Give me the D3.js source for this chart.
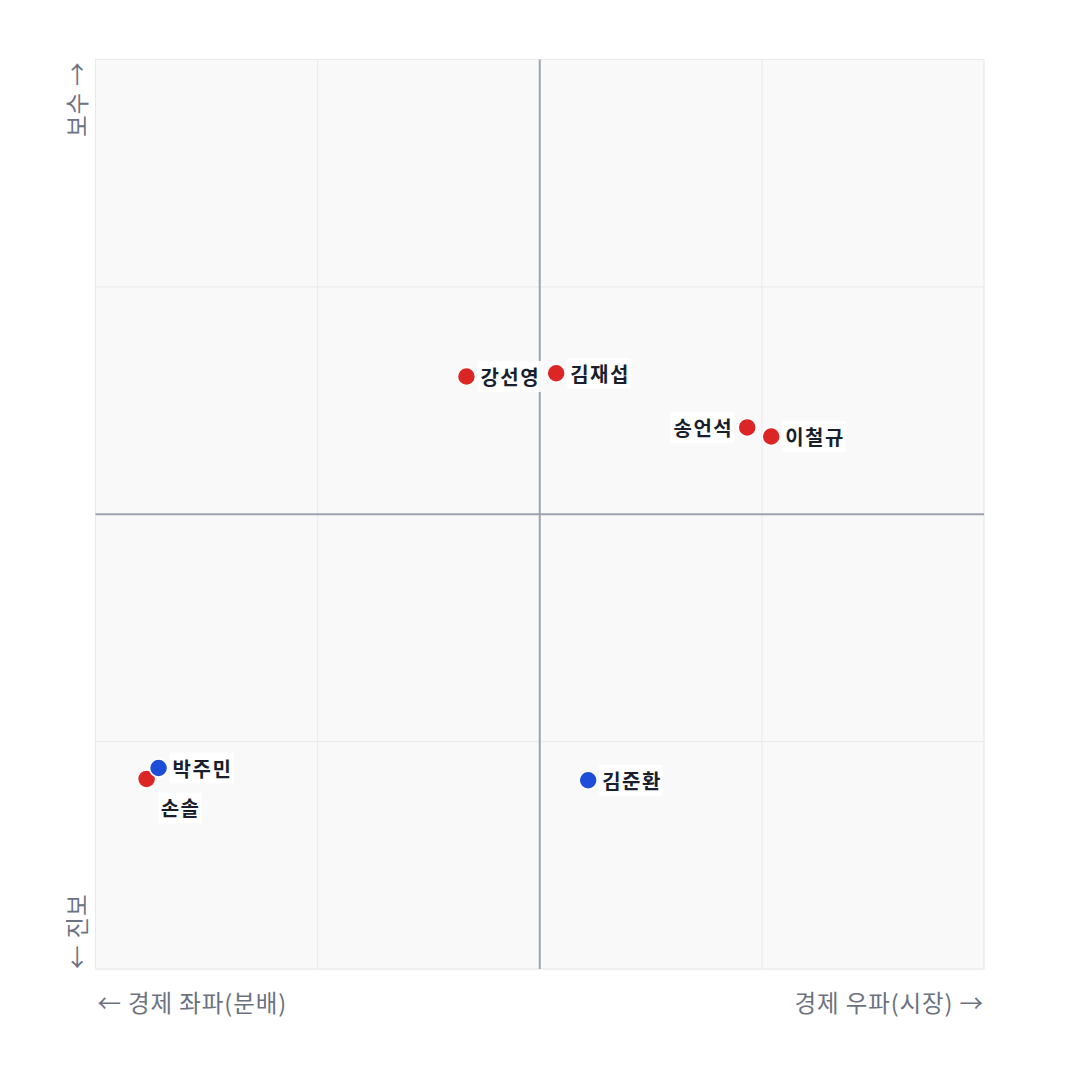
<!DOCTYPE html>
<html><head><meta charset="utf-8">
<script src="https://cdn.jsdelivr.net/npm/d3@7"></script>
<style>
html,body{margin:0;padding:0;background:#fff;}
text{font-family:"Noto Sans CJK KR","Noto Sans",sans-serif;}
</style></head>
<body>
<svg id="c" width="1080" height="1080"></svg>
<script>
const names = ["강선영","김재섭","송언석","이철규","박주민","손솔","김준환"];
const xValues = [-1.65, 0.37, 4.67, 5.21, -8.58, -8.85, 1.09];
const yValues = [3.03, 3.10, 1.91, 1.71, -5.58, -5.82, -5.85];
const parties = ["red","red","red","red","blue","red","blue"];
const labelPos = ["right","right","left","right","right","below","right"];
const gridTicks = [-10,-5,0,5,10];
const axisLabels = ["← 경제 좌파(분배)","경제 우파(시장) →","보수 →","← 진보"];

const colors = {red:"#dc2626", blue:"#1d4ed8"};
const svg = d3.select("#c");
const L=95.5, R=984, T=59.5, B=969;
const x = d3.scaleLinear().domain([-10,10]).range([L,R]);
const y = d3.scaleLinear().domain([-10,10]).range([B,T]);

svg.append("rect").attr("x",L).attr("y",T).attr("width",R-L).attr("height",B-T)
  .attr("fill","#f9f9f9").attr("stroke","#eeeeee").attr("stroke-width",1);

svg.append("g").selectAll("line").data(gridTicks.filter(d=>d!==0)).join("line")
  .attr("x1",d=>x(d)).attr("x2",d=>x(d)).attr("y1",T).attr("y2",B)
  .attr("stroke","#eaeaea").attr("stroke-width",1);
svg.append("g").selectAll("line").data(gridTicks.filter(d=>d!==0)).join("line")
  .attr("y1",d=>y(d)).attr("y2",d=>y(d)).attr("x1",L).attr("x2",R)
  .attr("stroke","#eaeaea").attr("stroke-width",1);

svg.append("line").attr("x1",x(0)).attr("x2",x(0)).attr("y1",T).attr("y2",B)
  .attr("stroke","#9ca3af").attr("stroke-width",2);
svg.append("line").attr("y1",y(0)).attr("y2",y(0)).attr("x1",L).attr("x2",R)
  .attr("stroke","#9ca3af").attr("stroke-width",2);

const axisColor = "#6b7280";
const fs = 23.5;
const ls = 0.9;
svg.append("text").attr("x",L+2).attr("y",1012).attr("fill",axisColor).attr("letter-spacing",ls)
  .attr("font-size",fs).attr("text-anchor","start").text(axisLabels[0]);
svg.append("text").attr("x",R).attr("y",1012).attr("fill",axisColor).attr("letter-spacing",ls)
  .attr("font-size",fs).attr("text-anchor","end").text(axisLabels[1]);
svg.append("text").attr("transform",`translate(86,${T+2}) rotate(-90)`).attr("fill",axisColor)
  .attr("font-size",fs).attr("text-anchor","end").attr("letter-spacing",ls).text(axisLabels[2]);
svg.append("text").attr("transform",`translate(86,${B}) rotate(-90)`).attr("fill",axisColor)
  .attr("font-size",fs).attr("text-anchor","start").attr("letter-spacing",ls).text(axisLabels[3]);

const data = names.map((n,i)=>({name:n,x:xValues[i],y:yValues[i],party:parties[i],pos:labelPos[i]}));

// points
const order = [5,4,0,1,2,3,6];
svg.append("g").selectAll("circle").data(order.map(i=>data[i])).join("circle")
  .attr("cx",d=>x(d.x)).attr("cy",d=>y(d.y)).attr("r",9)
  .attr("fill",d=>colors[d.party]).attr("stroke","#fff").attr("stroke-width",1.5);

// labels
const lg = svg.append("g");
data.forEach(d=>{
  const cx=x(d.x), cy=y(d.y);
  const g = lg.append("g");
  const t = g.append("text").attr("font-size",20).attr("font-weight",700).attr("fill","#1a1f2e")
    .attr("letter-spacing",1.5).attr("dominant-baseline","central").text(d.name);
  if(d.pos==="right"){ t.attr("x",cx+14).attr("y",cy).attr("text-anchor","start"); }
  else if(d.pos==="left"){ t.attr("x",cx-14).attr("y",cy).attr("text-anchor","end"); }
  else { t.attr("x",cx+34).attr("y",cy+29).attr("text-anchor","middle"); }
  const bb = t.node().getBBox();
  g.insert("rect","text").attr("x",bb.x-3).attr("y",bb.y-1).attr("width",bb.width+4).attr("height",bb.height+2)
    .attr("fill","#ffffff").attr("opacity",0.9);
});
</script>
</body></html>
